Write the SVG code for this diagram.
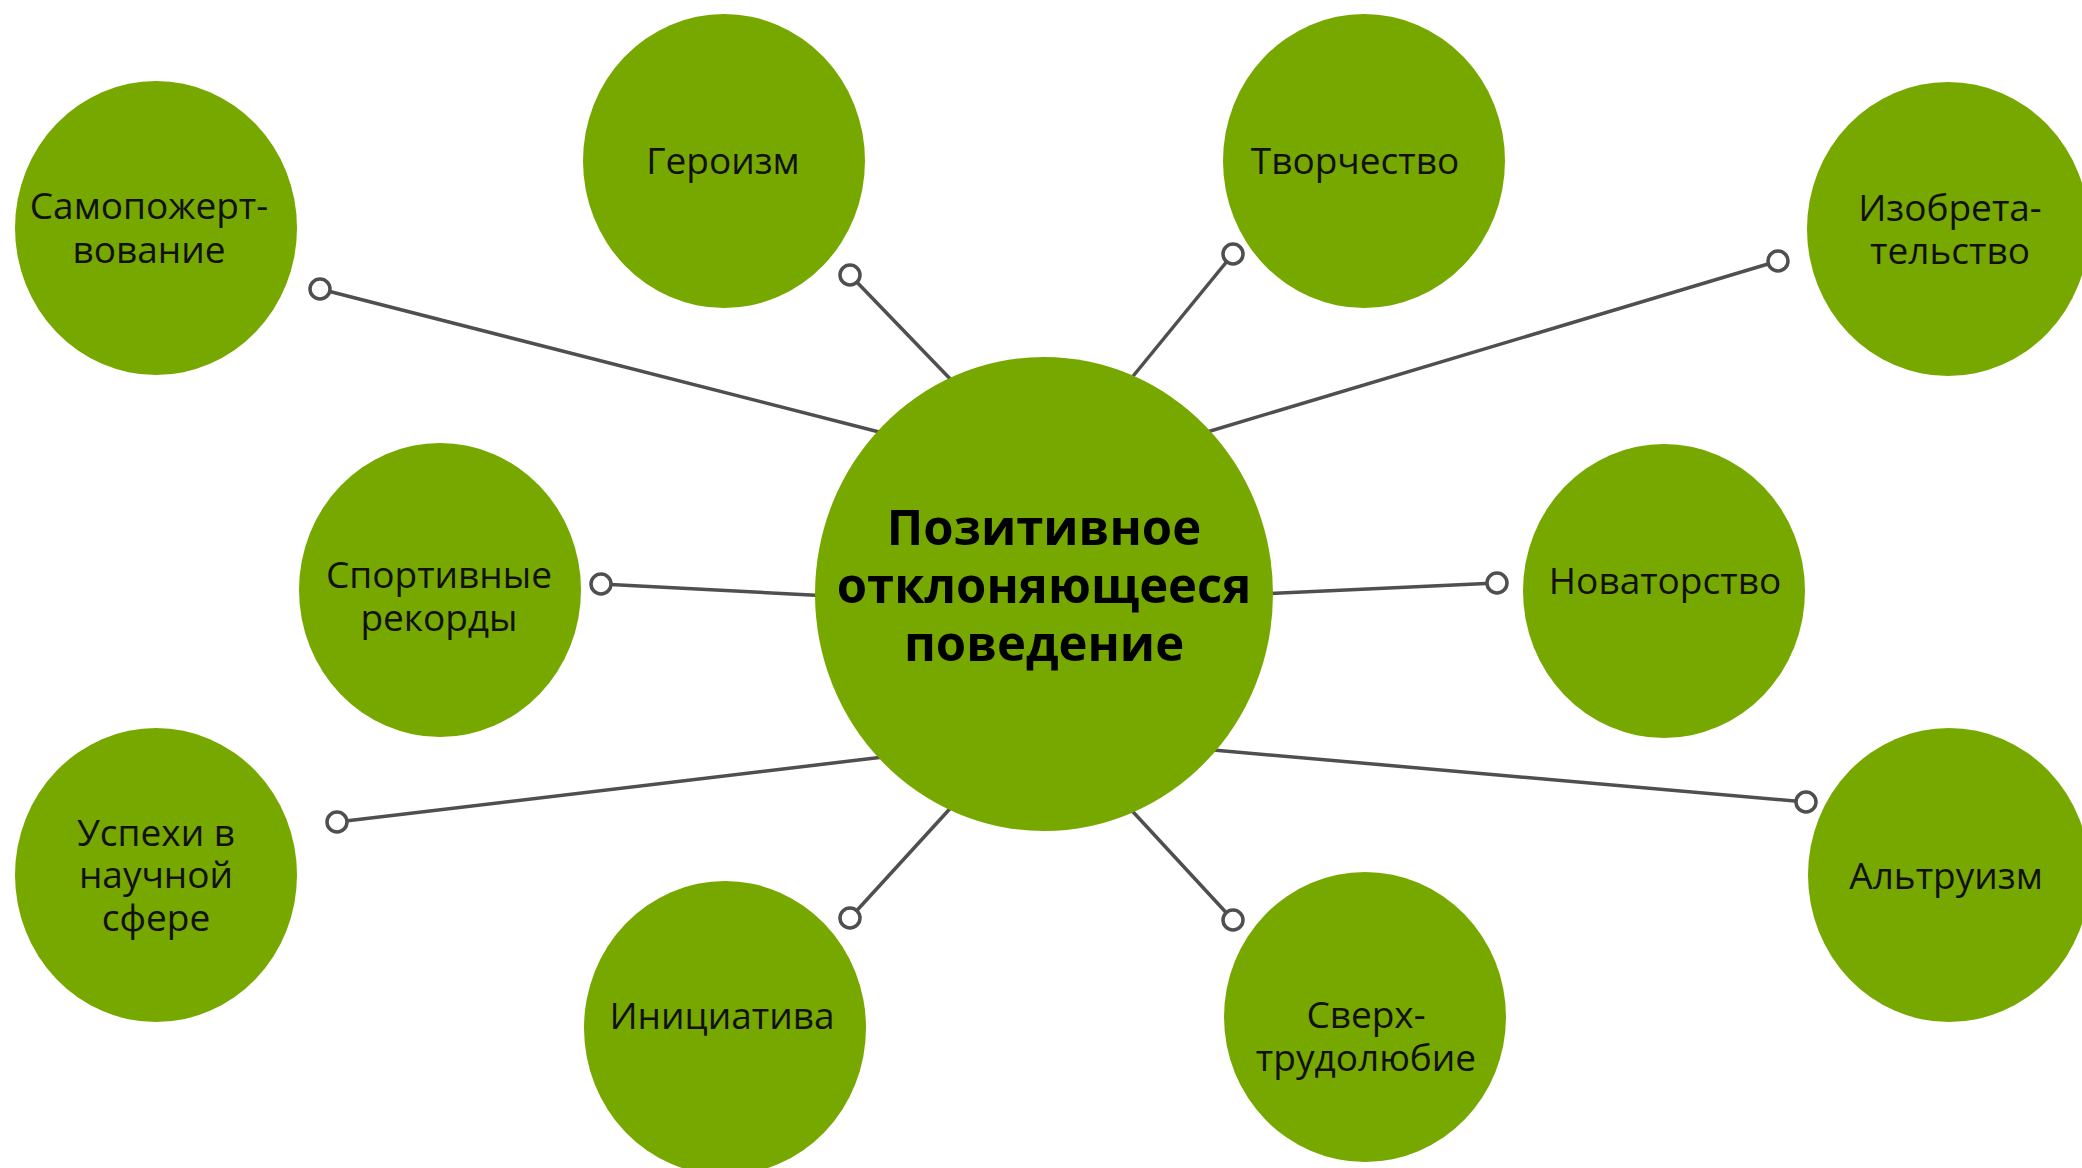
<svg xmlns="http://www.w3.org/2000/svg" width="2082" height="1168" viewBox="0 0 2082 1168">
<style>
.n{fill:#77a800}
.t{font-family:"Open Sans","Noto Sans","DejaVu Sans",sans-serif;font-size:37px;fill:#111;text-anchor:middle}
.b{font-family:"Open Sans","Noto Sans","DejaVu Sans",sans-serif;font-size:49px;font-weight:bold;fill:#000;text-anchor:middle}
.l{stroke:#4f4f4f;stroke-width:3.5;fill:none}
.e{stroke:#4f4f4f;stroke-width:3.5;fill:#fff}
</style>
<rect width="2082" height="1168" fill="#fff"/>
<g id="connectors">
<line class="l" x1="887" y1="434" x2="320" y2="289"/><circle class="e" cx="320" cy="289" r="10"/>
<line class="l" x1="957" y1="386" x2="850" y2="275"/><circle class="e" cx="850" cy="275" r="10"/>
<line class="l" x1="1125" y1="386" x2="1233" y2="254"/><circle class="e" cx="1233" cy="254" r="10"/>
<line class="l" x1="1197" y1="435" x2="1778" y2="261"/><circle class="e" cx="1778" cy="261" r="10"/>
<line class="l" x1="830" y1="596" x2="601" y2="584"/><circle class="e" cx="601" cy="584" r="10"/>
<line class="l" x1="1258" y1="594" x2="1497" y2="583"/><circle class="e" cx="1497" cy="583" r="10"/>
<line class="l" x1="892" y1="756" x2="337" y2="822"/><circle class="e" cx="337" cy="822" r="10"/>
<line class="l" x1="957" y1="801" x2="850" y2="918"/><circle class="e" cx="850" cy="918" r="10"/>
<line class="l" x1="1123" y1="801" x2="1233" y2="920"/><circle class="e" cx="1233" cy="920" r="10"/>
<line class="l" x1="1202" y1="749" x2="1806" y2="802"/><circle class="e" cx="1806" cy="802" r="10"/>
</g>
<g id="center">
<ellipse class="n" cx="1044" cy="594" rx="229" ry="237"/>
<text class="b" x="1044" y="545">Позитивное</text>
<text class="b" x="1044" y="603">отклоняющееся</text>
<text class="b" x="1044" y="661">поведение</text>
</g>
<g id="n1">
<ellipse class="n" cx="156" cy="228" rx="141" ry="147"/>
<text class="t" x="149" y="219">Самопожерт-</text>
<text class="t" x="149" y="263">вование</text>
</g>
<g id="n2">
<ellipse class="n" cx="724" cy="161" rx="141" ry="147"/>
<text class="t" x="723" y="174">Героизм</text>
</g>
<g id="n3">
<ellipse class="n" cx="1364" cy="161" rx="141" ry="147"/>
<text class="t" x="1355" y="174">Творчество</text>
</g>
<g id="n4">
<ellipse class="n" cx="1948" cy="229" rx="141" ry="147"/>
<text class="t" x="1950" y="221">Изобрета-</text>
<text class="t" x="1950" y="264">тельство</text>
</g>
<g id="n5">
<ellipse class="n" cx="440" cy="590" rx="141" ry="147"/>
<text class="t" x="439" y="588">Спортивные</text>
<text class="t" x="439" y="631">рекорды</text>
</g>
<g id="n6">
<ellipse class="n" cx="1664" cy="591" rx="141" ry="147"/>
<text class="t" x="1665" y="594">Новаторство</text>
</g>
<g id="n7">
<ellipse class="n" cx="156" cy="875" rx="141" ry="147"/>
<text class="t" x="156" y="846">Успехи в</text>
<text class="t" x="156" y="888">научной</text>
<text class="t" x="156" y="931">сфере</text>
</g>
<g id="n8">
<ellipse class="n" cx="725" cy="1028" rx="141" ry="147"/>
<text class="t" x="722" y="1029">Инициатива</text>
</g>
<g id="n9">
<ellipse class="n" cx="1365" cy="1017" rx="141" ry="145"/>
<text class="t" x="1366" y="1028">Сверх-</text>
<text class="t" x="1366" y="1071">трудолюбие</text>
</g>
<g id="n10">
<ellipse class="n" cx="1949" cy="875" rx="141" ry="147"/>
<text class="t" x="1946" y="889">Альтруизм</text>
</g>
</svg>
